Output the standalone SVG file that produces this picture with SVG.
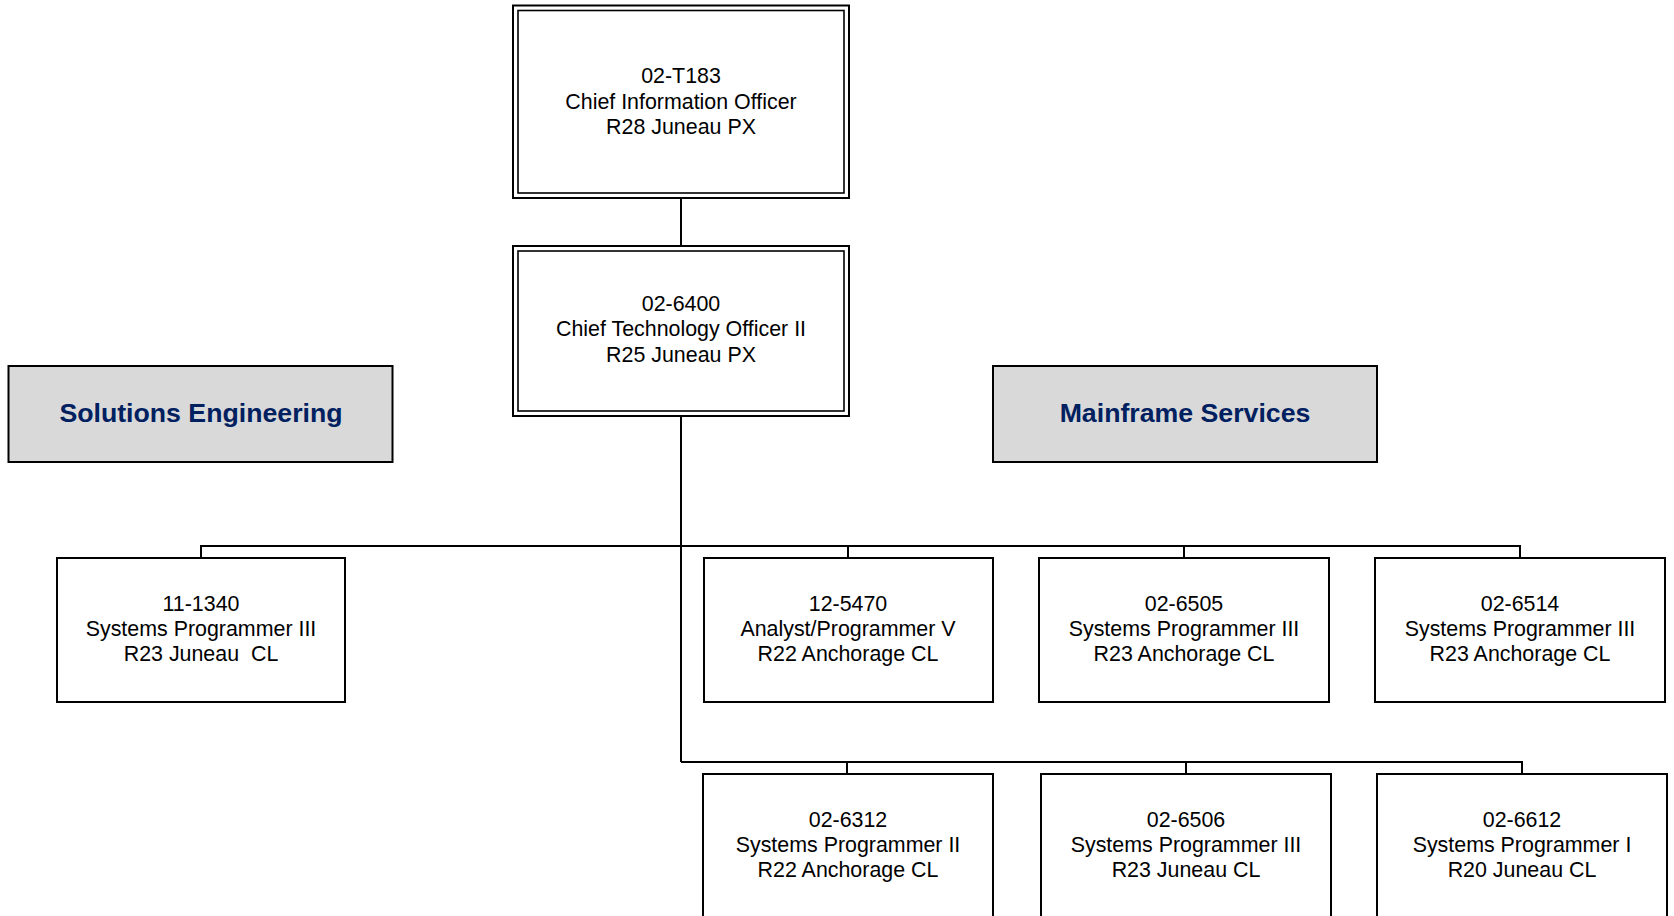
<svg xmlns="http://www.w3.org/2000/svg" width="1674" height="916" viewBox="0 0 1674 916">
<style>
.box{fill:#fff;stroke:#000;stroke-width:2}
.dbl{fill:none;stroke:#000;stroke-width:1.6}
.hdr{fill:#d9d9d9;stroke:#000;stroke-width:2}
.t{font-family:"Liberation Sans",Arial,sans-serif;font-size:21.4px;fill:#000;text-anchor:middle}
.h{font-family:"Liberation Sans",Arial,sans-serif;font-size:26.7px;font-weight:bold;fill:#002060;text-anchor:middle}
.ln{fill:none;stroke:#000;stroke-width:2}
</style>
<rect width="1674" height="916" fill="#fff"/>
<g id="connectors">
<line class="ln" x1="681" y1="198" x2="681" y2="246"/>
<line class="ln" x1="681" y1="416" x2="681" y2="762"/>
<polyline class="ln" points="201,558 201,546 1520,546 1520,558"/>
<line class="ln" x1="848" y1="546" x2="848" y2="558"/>
<line class="ln" x1="1184" y1="546" x2="1184" y2="558"/>
<polyline class="ln" points="681,762 1522,762 1522,774"/>
<line class="ln" x1="847" y1="762" x2="847" y2="774"/>
<line class="ln" x1="1186" y1="762" x2="1186" y2="774"/>
</g>
<g id="n-02-T183">
<rect class="box" x="513" y="5.5" width="336" height="192.5"/>
<rect class="dbl" x="518" y="10.5" width="326" height="182.5"/>
<text class="t" x="681" y="83">02-T183</text>
<text class="t" x="681" y="108.5">Chief Information Officer</text>
<text class="t" x="681" y="133.5">R28 Juneau PX</text>
</g>
<g id="n-02-6400">
<rect class="box" x="513" y="246" width="336" height="170"/>
<rect class="dbl" x="518" y="251" width="326" height="160"/>
<text class="t" x="681" y="310.5">02-6400</text>
<text class="t" x="681" y="336">Chief Technology Officer II</text>
<text class="t" x="681" y="361.5">R25 Juneau PX</text>
</g>
<g id="solutions-engineering">
<rect class="hdr" x="8.5" y="366" width="384" height="96"/>
<text class="h" x="201" y="422">Solutions Engineering</text>
</g>
<g id="mainframe-services">
<rect class="hdr" x="993" y="366" width="384" height="96"/>
<text class="h" x="1185" y="422">Mainframe Services</text>
</g>
<g id="n-11-1340">
<rect class="box" x="57" y="558" width="288" height="144"/>
<text class="t" x="201" y="610.5">11-1340</text>
<text class="t" x="201" y="636">Systems Programmer III</text>
<text class="t" x="201" y="661" xml:space="preserve">R23 Juneau  CL</text>
</g>
<g id="n-12-5470">
<rect class="box" x="704" y="558" width="289" height="144"/>
<text class="t" x="848" y="610.5">12-5470</text>
<text class="t" x="848" y="636">Analyst/Programmer V</text>
<text class="t" x="848" y="661">R22 Anchorage CL</text>
</g>
<g id="n-02-6505">
<rect class="box" x="1039" y="558" width="290" height="144"/>
<text class="t" x="1184" y="610.5">02-6505</text>
<text class="t" x="1184" y="636">Systems Programmer III</text>
<text class="t" x="1184" y="661">R23 Anchorage CL</text>
</g>
<g id="n-02-6514">
<rect class="box" x="1375" y="558" width="290" height="144"/>
<text class="t" x="1520" y="610.5">02-6514</text>
<text class="t" x="1520" y="636">Systems Programmer III</text>
<text class="t" x="1520" y="661">R23 Anchorage CL</text>
</g>
<g id="n-02-6312">
<rect class="box" x="703" y="774" width="290" height="160"/>
<text class="t" x="848" y="826.5">02-6312</text>
<text class="t" x="848" y="852">Systems Programmer II</text>
<text class="t" x="848" y="877">R22 Anchorage CL</text>
</g>
<g id="n-02-6506">
<rect class="box" x="1041" y="774" width="290" height="160"/>
<text class="t" x="1186" y="826.5">02-6506</text>
<text class="t" x="1186" y="852">Systems Programmer III</text>
<text class="t" x="1186" y="877">R23 Juneau CL</text>
</g>
<g id="n-02-6612">
<rect class="box" x="1377" y="774" width="290" height="160"/>
<text class="t" x="1522" y="826.5">02-6612</text>
<text class="t" x="1522" y="852">Systems Programmer I</text>
<text class="t" x="1522" y="877">R20 Juneau CL</text>
</g>
</svg>
